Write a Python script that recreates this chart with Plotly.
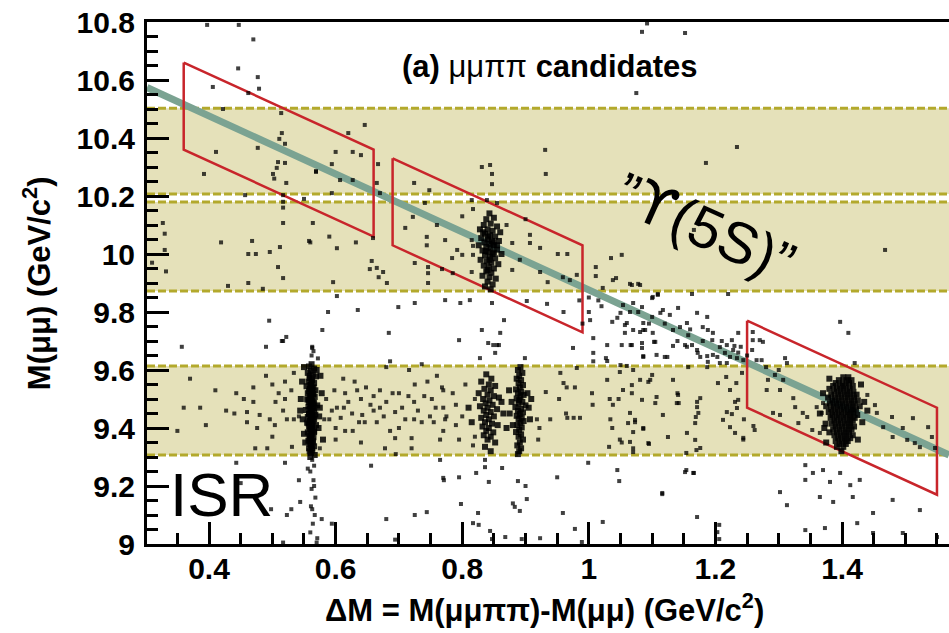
import plotly.graph_objects as go

# ---------------- data ----------------
# mass bands (M(mumu), GeV/c^2) for the Upsilon(1S), Upsilon(2S), Upsilon(3S) windows
band_lo = [9.307, 9.872, 10.207]
band_hi = [9.614, 10.179, 10.503]

# M(mumu pi pi) along the diagonal line (Upsilon(5S) hypothesis)
line_mass = 10.876
# signal boxes: Delta M windows and M(mumu pi pi) window
box_dm_lo = [0.36, 0.69, 1.25]
box_dm_hi = [0.66, 0.99, 1.55]
box_mtot_lo = 10.72
box_mtot_hi = 11.02

x_range = [0.302, 1.569]
y_range = [9.0, 10.8]
x_ticks = [0.4, 0.6, 0.8, 1.0, 1.2, 1.4]
x_tick_text = ["0.4", "0.6", "0.8", "1", "1.2", "1.4"]
y_ticks = [9.0, 9.2, 9.4, 9.6, 9.8, 10.0, 10.2, 10.4, 10.6, 10.8]
y_tick_text = ["9", "9.2", "9.4", "9.6", "9.8", "10", "10.2", "10.4", "10.6", "10.8"]

# candidates (Delta M, M(mumu)) -- sparse points above the Upsilon(2S) band
pts_upper = [
    (0.397, 10.79), (0.447, 10.79), (0.47, 10.74), (0.446, 10.64), (0.477, 10.61), (0.406, 10.576),
    (0.479, 10.57), (0.462, 10.555), (0.422, 10.50), (0.514, 10.486), (0.515, 10.417), (0.511, 10.397),
    (0.52, 10.38), (0.477, 10.366), (0.411, 10.352), (0.509, 10.317), (0.52, 10.314), (0.507, 10.297),
    (0.569, 10.286), (0.392, 10.276), (0.501, 10.276), (0.503, 10.26), (0.522, 10.245), (0.457, 10.203),
    (0.517, 10.203), (0.55, 10.19), (1.084, 10.766), (1.092, 10.795), (1.075, 10.555), (0.646, 10.445),
    (0.62, 10.417), (0.60, 10.352), (0.627, 10.352), (0.64, 10.341), (0.594, 10.31), (0.569, 10.283),
    (0.607, 10.255), (0.627, 10.255), (0.667, 10.31), (0.665, 10.245), (0.67, 10.21), (0.594, 10.21),
    (0.724, 10.245), (0.748, 10.22), (0.831, 10.30), (0.844, 10.307), (0.847, 10.276), (0.847, 10.241),
    (0.931, 10.359), (0.932, 10.276), (1.152, 10.762), (1.234, 10.369), (1.185, 10.314),
]

# sparse points inside the Upsilon(2S) band
pts_band2 = [
    (0.517, 10.18), (0.517, 10.16), (0.815, 10.186), (0.817, 10.155), (0.839, 10.186), (0.855, 10.176),
    (0.741, 10.176), (0.722, 10.128), (0.327, 10.107), (0.33, 10.07), (0.33, 10.014), (0.31, 9.97),
    (0.332, 9.94), (0.419, 10.04), (0.468, 10.045), (0.462, 10.0), (0.474, 10.0), (0.496, 10.007),
    (0.512, 10.024), (0.509, 9.955), (0.517, 9.917), (0.43, 9.89), (0.462, 9.90), (0.485, 9.88),
    (0.517, 10.107), (0.564, 10.107), (0.558, 10.045), (1.166, 10.083), (1.035, 9.986), (1.052, 9.997),
    (1.011, 9.955), (1.011, 9.924), (1.038, 9.91), (1.043, 9.917), (1.068, 9.893), (1.081, 9.893),
    (1.022, 9.883), (0.56, 10.04), (0.59, 10.06), (0.602, 10.02), (0.632, 10.04), (0.657, 9.976),
    (0.654, 9.948), (0.665, 9.952), (0.675, 9.938), (0.668, 9.92), (0.681, 9.90), (0.596, 9.903),
    (0.659, 10.055), (0.744, 10.059), (0.744, 10.03), (0.746, 9.955), (0.746, 9.934), (0.746, 9.90),
    (0.725, 9.969), (0.768, 9.948), (0.784, 9.986), (0.792, 10.014), (0.773, 10.048), (0.815, 10.048),
    (0.817, 10.028), (0.80, 9.997), (0.817, 9.997), (0.815, 9.938), (0.785, 9.934), (0.879, 10.038),
    (0.907, 10.038), (0.907, 10.066), (0.879, 9.945), (0.891, 9.98), (0.923, 10.021), (0.923, 9.938),
    (0.951, 10.0), (0.966, 10.0), (0.959, 9.92), (0.97, 9.91), (0.981, 9.928), (0.935, 9.903),
    (1.065, 9.897), (1.078, 9.897), (1.468, 10.014), (0.71, 10.09), (0.76, 10.10), (0.80, 10.13),
    (0.87, 10.10), (0.90, 10.12),
]

# points between the Upsilon(1S) and Upsilon(2S) bands
pts_gap = [
    (0.357, 9.68), (0.49, 9.68), (0.515, 9.70), (0.563, 9.68), (0.572, 9.64), (0.495, 9.77),
    (0.517, 9.70), (0.522, 9.714), (0.602, 9.855), (0.588, 9.80), (0.635, 9.807), (0.699, 9.817),
    (0.725, 9.831), (0.684, 9.728), (0.579, 9.738), (0.563, 9.676), (0.773, 9.841), (0.797, 9.831),
    (0.812, 9.841), (0.831, 9.738), (0.841, 9.693), (0.849, 9.686), (0.858, 9.686), (0.866, 9.772),
    (0.86, 9.728), (0.795, 9.703), (0.847, 9.831), (0.934, 9.828), (0.902, 9.838), (0.828, 9.641),
    (0.899, 9.641), (0.975, 9.676), (1.002, 9.772), (1.007, 9.71), (1.027, 9.641), (1.037, 9.766),
    (1.05, 9.797), (1.057, 9.755), (1.07, 9.738), (1.086, 9.738), (1.052, 9.686), (1.068, 9.686),
    (1.029, 9.686), (1.086, 9.648), (1.163, 9.862), (1.22, 9.862), (1.10, 9.848), (1.109, 9.862),
    (0.855, 9.686), (0.852, 9.659), (1.007, 9.659), (1.007, 9.63), (1.029, 9.631), (1.066, 9.686),
    (1.05, 9.617), (1.06, 9.614), (1.086, 9.645), (1.084, 9.676), (1.103, 9.697), (1.124, 9.645),
    (1.133, 9.683), (1.155, 9.68), (1.157, 9.61), (1.172, 9.659), (1.187, 9.648), (1.196, 9.652),
    (1.187, 9.61), (1.215, 9.659), (1.218, 9.624), (1.23, 9.683), (1.236, 9.66), (1.054, 9.824),
    (1.06, 9.762), (1.057, 9.728), (1.07, 9.831), (1.078, 9.80), (1.084, 9.817), (1.086, 9.762),
    (1.089, 9.738), (1.081, 9.731), (1.084, 9.693), (1.101, 9.852), (1.109, 9.859), (1.10, 9.783),
    (1.113, 9.797), (1.117, 9.807), (1.128, 9.79), (1.101, 9.728), (1.105, 9.697), (1.12, 9.645),
    (1.107, 9.652), (1.133, 9.738), (1.144, 9.748), (1.141, 9.814), (1.155, 9.762), (1.157, 9.72),
    (1.152, 9.686), (1.163, 9.686), (1.171, 9.797), (1.187, 9.783), (1.18, 9.748), (1.188, 9.738),
    (1.196, 9.728), (1.195, 9.703), (1.171, 9.669), (1.176, 9.645), (1.203, 9.645), (1.188, 9.628),
    (1.207, 9.624), (1.207, 9.679), (1.218, 9.686), (1.228, 9.669), (1.223, 9.645), (1.226, 9.703),
    (1.236, 9.728), (1.234, 9.641), (1.244, 9.634), (1.259, 9.731), (1.259, 9.703), (1.27, 9.703),
    (1.275, 9.697), (1.258, 9.669), (1.265, 9.634), (1.273, 9.634), (1.31, 9.641), (1.313, 9.624),
    (1.397, 9.766), (1.41, 9.728), (1.42, 9.624), (0.686, 9.63), (0.68, 9.61), (0.736, 9.62),
    (0.716, 9.60), (0.96, 9.80), (0.985, 9.84), (0.99, 9.76), (1.0, 9.85), (1.015, 9.84),
    (0.562, 9.65), (0.565, 9.665), (1.0, 9.80), (1.02, 9.82), (1.045, 9.78), (1.065, 9.80),
    (1.095, 9.76), (1.12, 9.76), (1.14, 9.70), (1.16, 9.74), (1.18, 9.70), (1.21, 9.70),
    (1.24, 9.68), (1.25, 9.65), (1.28, 9.61), (1.30, 9.60),
]

# sparse points inside the Upsilon(1S) band
pts_band1 = [
    (0.37, 9.57), (0.612, 9.57), (0.725, 9.55), (0.76, 9.58), (0.534, 9.59), (0.49, 9.58),
    (0.47, 9.54), (0.443, 9.52), (0.50, 9.55), (0.51, 9.52), (0.52, 9.50), (0.53, 9.53),
    (0.505, 9.49), (0.615, 9.52), (0.634, 9.53), (0.64, 9.50), (0.655, 9.48), (0.66, 9.51),
    (0.67, 9.53), (0.69, 9.52), (0.70, 9.52), (0.724, 9.49), (0.74, 9.51), (0.752, 9.50),
    (0.768, 9.54), (0.36, 9.47), (0.386, 9.47), (0.427, 9.46), (0.44, 9.45), (0.46, 9.455),
    (0.46, 9.42), (0.47, 9.49), (0.476, 9.40), (0.48, 9.445), (0.496, 9.43), (0.504, 9.41),
    (0.517, 9.46), (0.523, 9.43), (0.534, 9.43), (0.542, 9.44), (0.492, 9.33), (0.473, 9.33),
    (0.531, 9.335), (0.575, 9.33), (0.582, 9.43), (0.59, 9.43), (0.594, 9.46), (0.602, 9.47),
    (0.613, 9.47), (0.60, 9.40), (0.615, 9.39), (0.627, 9.39), (0.608, 9.435), (0.626, 9.45),
    (0.637, 9.42), (0.646, 9.42), (0.642, 9.445), (0.66, 9.46), (0.67, 9.47), (0.676, 9.44),
    (0.694, 9.455), (0.686, 9.39), (0.70, 9.40), (0.694, 9.365), (0.72, 9.365), (0.71, 9.43),
    (0.724, 9.43), (0.736, 9.42), (0.749, 9.44), (0.755, 9.42), (0.765, 9.36), (0.77, 9.47),
    (0.773, 9.43), (0.678, 9.33), (0.695, 9.31), (0.77, 9.53), (0.775, 9.44), (0.77, 9.39),
    (0.79, 9.48), (0.79, 9.41), (0.80, 9.44), (0.82, 9.50), (0.82, 9.37), (0.817, 9.34),
    (0.918, 9.43), (0.922, 9.40), (0.92, 9.36), (0.932, 9.524), (0.939, 9.43), (0.953, 9.50),
    (0.955, 9.59), (0.96, 9.555), (0.965, 9.54), (0.964, 9.45), (0.966, 9.435), (0.976, 9.435),
    (0.986, 9.435), (0.978, 9.54), (0.981, 9.607), (1.005, 9.52), (1.006, 9.48), (1.029, 9.566),
    (1.033, 9.50), (1.038, 9.48), (1.047, 9.50), (1.034, 9.43), (1.037, 9.40), (1.032, 9.335),
    (1.049, 9.36), (1.052, 9.35), (1.068, 9.548), (1.068, 9.52), (1.065, 9.452), (1.073, 9.42),
    (1.07, 9.386), (1.086, 9.397), (1.07, 9.33), (1.094, 9.559), (1.107, 9.507), (1.117, 9.445),
    (1.125, 9.369), (1.095, 9.345), (1.133, 9.566), (1.14, 9.52), (1.142, 9.486), (1.154, 9.314),
    (1.171, 9.49), (1.169, 9.438), (1.17, 9.324), (1.204, 9.555), (1.217, 9.576), (1.218, 9.455),
    (1.231, 9.49), (1.226, 9.448), (1.233, 9.555), (1.245, 9.43), (1.244, 9.36), (1.242, 9.59),
    (1.26, 9.407), (1.262, 9.393), (1.049, 9.593), (1.07, 9.60), (1.054, 9.531), (1.081, 9.566),
    (1.097, 9.566), (1.10, 9.583), (1.084, 9.497), (1.105, 9.486), (1.073, 9.428), (1.086, 9.40),
    (1.062, 9.417), (1.065, 9.352), (1.094, 9.348), (1.07, 9.317), (1.141, 9.514), (1.139, 9.486),
    (1.176, 9.503), (1.171, 9.472), (1.173, 9.452), (1.168, 9.417), (1.155, 9.383), (1.168, 9.359),
    (1.176, 9.331), (1.223, 9.531), (1.236, 9.497), (1.234, 9.469), (1.212, 9.428), (1.223, 9.403),
    (1.244, 9.366), (1.231, 9.383), (1.283, 9.566), (1.294, 9.583), (1.307, 9.566), (1.302, 9.531),
    (1.281, 9.531), (1.291, 9.452), (1.302, 9.445), (1.323, 9.503), (1.326, 9.472), (1.338, 9.452),
    (1.331, 9.417), (1.345, 9.438), (1.353, 9.393), (1.365, 9.383), (1.36, 9.472), (1.37, 9.486),
    (1.368, 9.452), (1.44, 9.514), (1.452, 9.479), (1.455, 9.452), (1.465, 9.403), (1.479, 9.438),
    (1.48, 9.369), (1.496, 9.40), (1.503, 9.359), (1.512, 9.434), (1.515, 9.348), (1.523, 9.334),
    (1.536, 9.403), (1.542, 9.369), (1.547, 9.331), (0.585, 9.50), (0.598, 9.53), (0.62, 9.49),
    (0.63, 9.56), (0.648, 9.54), (0.665, 9.42), (0.68, 9.49), (0.705, 9.47), (0.715, 9.51),
    (0.73, 9.46), (0.745, 9.56), (0.758, 9.47), (0.785, 9.52), (0.795, 9.36), (0.805, 9.55),
    (0.60, 9.36), (0.64, 9.35), (0.72, 9.33), (0.50, 9.37), (0.52, 9.56), (0.455, 9.50),
    (0.41, 9.53), (0.395, 9.41), (0.35, 9.39),
]

# points below the Upsilon(1S) band (ISR tail and background)
pts_lower = [
    (0.563, 9.29), (0.566, 9.27), (0.56, 9.25), (0.565, 9.22), (0.562, 9.19), (0.568, 9.16),
    (0.561, 9.13), (0.567, 9.10), (0.564, 9.07), (0.56, 9.04), (0.571, 9.02), (0.563, 9.12),
    (0.566, 9.20), (0.556, 9.26), (0.57, 9.005),
    (0.443, 9.28), (0.52, 9.28), (0.542, 9.22), (0.656, 9.27), (0.765, 9.29), (0.771, 9.22),
    (0.498, 9.12), (0.523, 9.10), (0.53, 9.12), (0.544, 9.145), (0.578, 9.086), (0.594, 9.07),
    (0.68, 9.086), (0.725, 9.10), (0.744, 9.11), (0.694, 9.015), (0.517, 9.005), (0.45, 9.21),
    (0.836, 9.29), (0.836, 9.265), (0.863, 9.262), (0.822, 9.245), (0.77, 9.228), (0.795, 9.23),
    (0.842, 9.214), (0.888, 9.217), (0.90, 9.20), (0.902, 9.155), (0.88, 9.14), (0.883, 9.128),
    (0.891, 9.114), (0.798, 9.138), (0.825, 9.107), (0.817, 9.072), (0.826, 9.066), (0.844, 9.045),
    (0.847, 9.017), (0.868, 9.024), (0.894, 9.017), (0.923, 9.02), (0.95, 9.23), (0.959, 9.107),
    (0.978, 9.052), (0.989, 9.007), (0.999, 9.28), (1.022, 9.076), (1.045, 9.255), (1.048, 9.217),
    (1.116, 9.172), (1.154, 9.255), (1.166, 9.245), (1.171, 9.093), (1.206, 9.066), (1.206, 9.017),
    (1.342, 9.272), (1.354, 9.245), (1.37, 9.255), (1.381, 9.214), (1.397, 9.245), (1.413, 9.203),
    (1.428, 9.221), (1.342, 9.221), (1.302, 9.179), (1.313, 9.134), (1.365, 9.162), (1.386, 9.145),
    (1.417, 9.162), (1.449, 9.107), (1.48, 9.152), (1.523, 9.117), (1.116, 9.176), (1.152, 9.248),
    (1.165, 9.245), (1.424, 9.072), (1.373, 9.055), (1.449, 9.038), (1.496, 9.038), (1.55, 9.024),
    (1.203, 9.041), (1.342, 9.048),
]

# Upsilon(2S) cluster near Delta M = 0.84 in the upper band
pts_cluster_2s = [
    (0.843, 10.14), (0.838, 10.12), (0.85, 10.125), (0.834, 10.10), (0.845, 10.105), (0.855, 10.095),
    (0.828, 10.085), (0.84, 10.085), (0.848, 10.08), (0.86, 10.075), (0.836, 10.07), (0.844, 10.065),
    (0.852, 10.06), (0.83, 10.055), (0.84, 10.05), (0.847, 10.045), (0.858, 10.045), (0.835, 10.04),
    (0.843, 10.035), (0.85, 10.03), (0.826, 10.03), (0.838, 10.025), (0.845, 10.02), (0.855, 10.015),
    (0.832, 10.012), (0.841, 10.008), (0.848, 10.0), (0.862, 10.0), (0.836, 9.995), (0.844, 9.99),
    (0.852, 9.985), (0.829, 9.98), (0.839, 9.975), (0.846, 9.97), (0.857, 9.965), (0.834, 9.96),
    (0.842, 9.955), (0.85, 9.95), (0.838, 9.94), (0.846, 9.935), (0.832, 9.925), (0.843, 9.92),
    (0.853, 9.915), (0.84, 9.905), (0.848, 9.895), (0.836, 9.888), (0.845, 9.878), (0.841, 10.06),
    (0.849, 10.04), (0.837, 10.01), (0.85, 10.005), (0.843, 9.98), (0.84, 9.945), (0.855, 10.03),
    (0.833, 10.075),
]

# Upsilon(2S) -> Upsilon(1S) pi pi streak at Delta M = 0.56
pts_streak_056 = [
    (0.562, 9.62), (0.558, 9.612), (0.566, 9.605), (0.561, 9.598), (0.556, 9.59), (0.564, 9.585),
    (0.569, 9.578), (0.559, 9.572), (0.563, 9.566), (0.557, 9.56), (0.566, 9.555), (0.561, 9.549),
    (0.554, 9.544), (0.565, 9.54), (0.559, 9.535), (0.568, 9.53), (0.562, 9.526), (0.556, 9.52),
    (0.564, 9.516), (0.559, 9.511), (0.567, 9.507), (0.561, 9.503), (0.555, 9.499), (0.563, 9.495),
    (0.558, 9.49), (0.566, 9.486), (0.561, 9.482), (0.571, 9.478), (0.557, 9.474), (0.564, 9.47),
    (0.56, 9.466), (0.553, 9.462), (0.566, 9.458), (0.562, 9.454), (0.558, 9.45), (0.568, 9.446),
    (0.563, 9.442), (0.556, 9.438), (0.561, 9.434), (0.566, 9.43), (0.559, 9.426), (0.564, 9.422),
    (0.555, 9.418), (0.562, 9.414), (0.569, 9.41), (0.558, 9.405), (0.563, 9.40), (0.56, 9.395),
    (0.566, 9.39), (0.556, 9.385), (0.562, 9.38), (0.559, 9.374), (0.565, 9.368), (0.561, 9.362),
    (0.557, 9.356), (0.564, 9.35), (0.56, 9.344), (0.566, 9.337), (0.558, 9.33), (0.563, 9.322),
    (0.561, 9.314), (0.567, 9.307), (0.56, 9.30),
    (0.56, 9.548), (0.563, 9.538), (0.558, 9.528), (0.565, 9.518), (0.561, 9.508), (0.557, 9.497),
    (0.564, 9.488), (0.56, 9.478), (0.566, 9.468), (0.562, 9.458), (0.558, 9.448), (0.565, 9.438),
    (0.561, 9.428), (0.557, 9.416), (0.563, 9.406), (0.56, 9.396), (0.566, 9.386), (0.562, 9.376),
    (0.559, 9.366), (0.564, 9.356), (0.561, 9.34), (0.563, 9.33), (0.559, 9.32), (0.562, 9.56),
    (0.559, 9.58),
    (0.545, 9.50), (0.548, 9.43), (0.575, 9.47), (0.578, 9.52), (0.55, 9.38), (0.573, 9.40),
    (0.547, 9.56), (0.576, 9.58), (0.552, 9.35), (0.58, 9.36), (0.544, 9.46), (0.574, 9.44),
    (0.57, 9.60), (0.55, 9.61),
]

# Upsilon(3S) cluster near Delta M = 0.84 in the lower band
pts_cluster_084 = [
    (0.838, 9.585), (0.846, 9.57), (0.83, 9.56), (0.842, 9.55), (0.852, 9.545), (0.835, 9.535),
    (0.845, 9.53), (0.826, 9.52), (0.84, 9.515), (0.85, 9.51), (0.858, 9.505), (0.833, 9.50),
    (0.843, 9.495), (0.837, 9.485), (0.848, 9.48), (0.828, 9.475), (0.84, 9.47), (0.855, 9.465),
    (0.834, 9.46), (0.845, 9.455), (0.838, 9.445), (0.85, 9.44), (0.83, 9.435), (0.842, 9.43),
    (0.836, 9.42), (0.847, 9.415), (0.856, 9.41), (0.832, 9.405), (0.842, 9.40), (0.838, 9.39),
    (0.849, 9.385), (0.834, 9.375), (0.845, 9.37), (0.84, 9.36), (0.852, 9.35), (0.836, 9.335),
    (0.845, 9.32), (0.81, 9.47), (0.815, 9.42), (0.865, 9.45), (0.862, 9.49), (0.87, 9.40),
]

# Upsilon(3S) -> Upsilon(1S) pi pi streak at Delta M = 0.89
pts_streak_089 = [
    (0.892, 9.61), (0.888, 9.60), (0.895, 9.59), (0.89, 9.58), (0.886, 9.57), (0.893, 9.565),
    (0.889, 9.555), (0.896, 9.548), (0.891, 9.54), (0.885, 9.533), (0.893, 9.526), (0.888, 9.52),
    (0.897, 9.514), (0.892, 9.508), (0.886, 9.502), (0.89, 9.496), (0.895, 9.49), (0.889, 9.484),
    (0.90, 9.478), (0.884, 9.472), (0.893, 9.466), (0.888, 9.46), (0.896, 9.454), (0.891, 9.448),
    (0.886, 9.442), (0.894, 9.436), (0.889, 9.43), (0.897, 9.424), (0.892, 9.418), (0.887, 9.41),
    (0.894, 9.402), (0.89, 9.394), (0.885, 9.386), (0.893, 9.378), (0.889, 9.37), (0.896, 9.36),
    (0.891, 9.35), (0.887, 9.34), (0.893, 9.33), (0.89, 9.32), (0.888, 9.31), (0.905, 9.47),
    (0.878, 9.49), (0.907, 9.43), (0.875, 9.45), (0.903, 9.52), (0.88, 9.41), (0.909, 9.50),
    (0.874, 9.53),
]

# Upsilon(5S) -> Upsilon(1S) pi pi blob at Delta M = 1.40
pts_blob_140 = [
    (1.402, 9.575), (1.41, 9.575),
    (1.395, 9.565), (1.407, 9.565), (1.415, 9.565),
    (1.39, 9.555), (1.401, 9.555), (1.411, 9.555),
    (1.386, 9.545), (1.397, 9.545), (1.406, 9.545), (1.417, 9.545),
    (1.38, 9.535), (1.392, 9.535), (1.402, 9.535), (1.412, 9.535),
    (1.388, 9.525), (1.398, 9.525), (1.408, 9.525), (1.418, 9.525),
    (1.383, 9.515), (1.394, 9.515), (1.404, 9.515), (1.413, 9.515), (1.423, 9.515),
    (1.378, 9.505), (1.389, 9.505), (1.399, 9.505), (1.409, 9.505), (1.419, 9.505),
    (1.385, 9.495), (1.395, 9.495), (1.405, 9.495), (1.415, 9.495), (1.425, 9.495),
    (1.381, 9.485), (1.391, 9.485), (1.401, 9.485), (1.411, 9.485), (1.42, 9.485),
    (1.375, 9.475), (1.387, 9.475), (1.397, 9.475), (1.407, 9.475), (1.417, 9.475), (1.428, 9.475),
    (1.383, 9.465), (1.393, 9.465), (1.403, 9.465), (1.413, 9.465), (1.422, 9.465),
    (1.379, 9.455), (1.389, 9.455), (1.399, 9.455), (1.409, 9.455), (1.418, 9.455),
    (1.385, 9.445), (1.395, 9.445), (1.405, 9.445), (1.414, 9.445), (1.424, 9.445),
    (1.382, 9.435), (1.392, 9.435), (1.402, 9.435), (1.412, 9.435), (1.42, 9.435),
    (1.388, 9.425), (1.398, 9.425), (1.408, 9.425), (1.417, 9.425),
    (1.374, 9.415), (1.384, 9.415), (1.394, 9.415), (1.404, 9.415), (1.413, 9.415),
    (1.39, 9.405), (1.40, 9.405), (1.41, 9.405), (1.419, 9.405),
    (1.386, 9.395), (1.396, 9.395), (1.406, 9.395), (1.415, 9.395),
    (1.38, 9.385), (1.392, 9.385), (1.402, 9.385), (1.411, 9.385),
    (1.388, 9.375), (1.398, 9.375), (1.407, 9.375), (1.417, 9.375),
    (1.394, 9.365), (1.404, 9.365), (1.413, 9.365),
    (1.39, 9.355), (1.40, 9.355), (1.409, 9.355),
    (1.396, 9.345), (1.406, 9.345), (1.392, 9.335), (1.402, 9.335), (1.399, 9.32),
    (1.37, 9.52), (1.365, 9.45), (1.435, 9.49), (1.432, 9.42), (1.372, 9.40), (1.43, 9.55),
    (1.38, 9.57), (1.425, 9.36), (1.375, 9.35), (1.44, 9.46),
]

sparse_groups = [pts_upper, pts_band2, pts_gap, pts_band1, pts_lower]
dense_groups = [pts_cluster_2s, pts_streak_056, pts_cluster_084, pts_streak_089, pts_blob_140]
sparse_dm = [p[0] for g in sparse_groups for p in g]
sparse_m = [p[1] for g in sparse_groups for p in g]
dense_dm = [p[0] for g in dense_groups for p in g]
dense_m = [p[1] for g in dense_groups for p in g]

# ---------------- figure ----------------
FONT = "Liberation Sans, Arial, Helvetica, sans-serif"
BAND_FILL = "#e5e1ba"
BAND_LINE = "#b3a92c"

fig = go.Figure()

shapes = []
for lo, hi in zip(band_lo, band_hi):
    shapes.append(dict(type="rect", xref="paper", yref="y", x0=0, x1=1, y0=lo, y1=hi,
                       fillcolor=BAND_FILL, line=dict(width=0), layer="below"))
for lo, hi in zip(band_lo, band_hi):
    for yv in (lo, hi):
        shapes.append(dict(type="line", xref="paper", yref="y", x0=0, x1=1, y0=yv, y1=yv,
                           line=dict(color=BAND_LINE, width=3, dash="8px,3px"), layer="below"))

# diagonal: constant M(mumu pi pi)
fig.add_trace(go.Scatter(
    x=[x_range[0], x_range[1]],
    y=[line_mass - x_range[0], line_mass - x_range[1]],
    mode="lines", line=dict(color="#7ba392", width=7), hoverinfo="skip"))

# signal boxes: Delta M window x M(mumu pi pi) window
for lo, hi in zip(box_dm_lo, box_dm_hi):
    bx = [lo, hi, hi, lo, lo]
    by = [box_mtot_hi - lo, box_mtot_hi - hi, box_mtot_lo - hi, box_mtot_lo - lo, box_mtot_hi - lo]
    fig.add_trace(go.Scatter(x=bx, y=by, mode="lines",
                             line=dict(color="#c8252b", width=2.5), hoverinfo="skip"))

fig.add_trace(go.Scatter(
    x=sparse_dm, y=sparse_m, mode="markers",
    marker=dict(symbol="square", size=4, color="rgba(0,0,0,0.75)", line=dict(width=0))))
fig.add_trace(go.Scatter(
    x=dense_dm, y=dense_m, mode="markers",
    marker=dict(symbol="square", size=6, color="rgba(0,0,0,0.85)", line=dict(width=0))))

axis_common = dict(
    showgrid=False, zeroline=False, showline=True, linecolor="black", linewidth=3,
    ticks="inside", tickcolor="black", tickwidth=2.5, ticklen=22,
    tickfont=dict(family=FONT, size=30, color="black", weight="bold"),
)

fig.update_xaxes(range=x_range, tickvals=x_ticks, ticktext=x_tick_text, mirror=True,
                 minor=dict(ticks="inside", dtick=0.05, ticklen=11, tickwidth=2.5, tickcolor="black"),
                 ticklabelstandoff=-4, **axis_common)
fig.update_yaxes(range=y_range, tickvals=y_ticks, ticktext=y_tick_text,
                 minor=dict(ticks="inside", dtick=0.05, ticklen=11, tickwidth=2.5, tickcolor="black"),
                 ticklabelstandoff=3, **axis_common)

annotations = [
    dict(text="<b>(a)</b> μμππ <b>candidates</b>", x=0.939, y=10.645, xref="x", yref="y",
         showarrow=False, font=dict(family=FONT, size=31, color="black")),
    dict(text="ISR", x=0.42, y=9.17, xref="x", yref="y", showarrow=False,
         font=dict(family=FONT, size=62, color="black")),
    dict(text="”<span style='font-family:DejaVu Sans'>ϒ</span>(5S)”", x=1.185, y=10.09,
         xref="x", yref="y", showarrow=False, textangle=24,
         font=dict(family=FONT, size=58, color="black")),
    dict(text="<b>M(μμ) (GeV/c<sup>2</sup>)</b>", x=-0.137, y=0.5, xref="paper", yref="paper",
         showarrow=False, textangle=-90, xanchor="center", yanchor="middle",
         font=dict(family=FONT, size=31, color="black")),
    dict(text="<b>ΔM = M(μμππ)-M(μμ) (GeV/c<sup>2</sup>)</b>", x=0.496, y=-0.1226,
         xref="paper", yref="paper", showarrow=False, xanchor="center", yanchor="middle",
         font=dict(family=FONT, size=31, color="black")),
]

fig.update_layout(
    width=949, height=633,
    margin=dict(l=147, r=0, t=22, b=89),
    plot_bgcolor="white", paper_bgcolor="white",
    showlegend=False, shapes=shapes, annotations=annotations,
)

fig.write_html("out.html")
